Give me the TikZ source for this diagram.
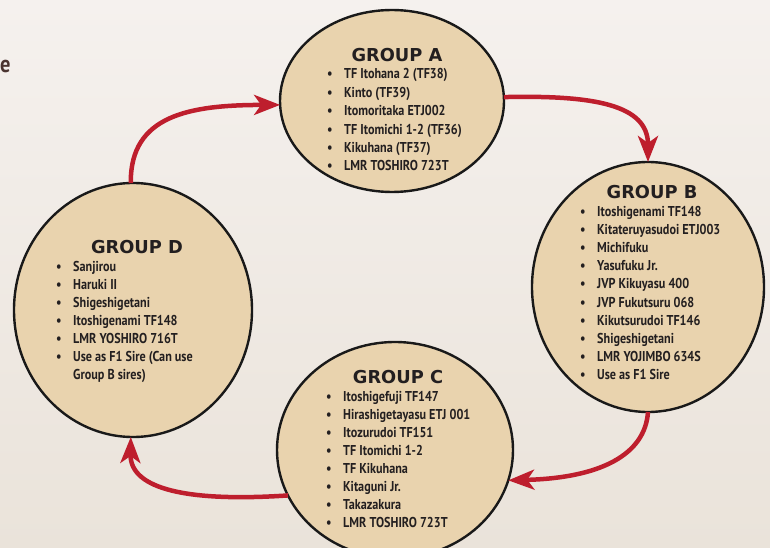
\documentclass[tikz,border=0pt]{standalone}
\usepackage{fontspec}
\setmainfont{PT Sans}[FakeStretch=0.85]
\newfontfamily\grouptitlefont{DejaVu Sans}
\usetikzlibrary{shapes.geometric,arrows.meta}
\definecolor{bgtop}{HTML}{F5F1EE}
\definecolor{bgbottom}{HTML}{EAE3DA}
\definecolor{groupfill}{HTML}{E9D3AE}
\definecolor{cyclered}{HTML}{BE1E2D}
\definecolor{inktext}{HTML}{231F20}
\definecolor{headbrown}{HTML}{4B3430}
\tikzset{
  group/.style={ellipse,draw=black!90,line width=2.4pt,fill=groupfill,inner sep=0pt,outer sep=0pt},
  grouptitle/.style={anchor=base,inner sep=0pt,text=inktext,font=\grouptitlefont\bfseries\fontsize{17.8}{20}\selectfont},
  sireitem/.style={anchor=base west,inner sep=0pt,text=inktext,font=\bfseries\fontsize{14.3}{16}\selectfont},
  cyclearrow/.style={draw=cyclered,line width=4.5pt,-{Stealth[length=26pt,width=20pt,inset=7pt]}},
}
\begin{document}
\begin{tikzpicture}[x=1pt,y=-1pt]
\useasboundingbox (0,0) rectangle (770,548);
\clip (0,0) rectangle (770,548);
\shade[top color=bgtop,bottom color=bgbottom] (0,0) rectangle (770,548);
%%
\node (cutword) at (0,73) [anchor=base west,inner sep=0pt,text=headbrown,font=\bfseries\fontsize{24}{26}\selectfont] {e};
%% the four groups
\node (grpA) at (392,101) [group,minimum width=224pt,minimum height=182pt] {};
\node (grpB) at (648,287) [group,minimum width=232pt,minimum height=250pt] {};
\node (grpC) at (395,450) [group,minimum width=236pt,minimum height=216pt] {};
\node (grpD) at (133,310) [group,minimum width=238pt,minimum height=254pt] {};
%
\node (titleA) at (397,62) [grouptitle] {GROUP A};
\node (titleB) at (652,198) [grouptitle] {GROUP B};
\node (titleC) at (398,383) [grouptitle] {GROUP C};
\node (titleD) at (137,253) [grouptitle] {GROUP D};
%
\foreach \sire [count=\i from 0] in {TF Itohana 2 (TF38),Kinto (TF39),Itomoritaka ETJ002,TF Itomichi 1-2 (TF36),Kikuhana (TF37),LMR TOSHIRO 723T}
  \node (itemA\i) at (327,79+18.4*\i) [sireitem] {\makebox[17pt][l]{\textbullet}\sire};
\foreach \sire [count=\i from 0] in {Itoshigenami TF148,Kitateruyasudoi ETJ003,Michifuku,Yasufuku Jr.,JVP Kikuyasu 400,JVP Fukutsuru 068,Kikutsurudoi TF146,Shigeshigetani,LMR YOJIMBO 634S,Use as F1 Sire}
  \node (itemB\i) at (580,216+18.2*\i) [sireitem] {\makebox[17pt][l]{\textbullet}\sire};
\foreach \sire [count=\i from 0] in {Itoshigefuji TF147,Hirashigetayasu ETJ 001,Itozurudoi TF151,TF Itomichi 1-2,TF Kikuhana,Kitaguni Jr.,Takazakura,LMR TOSHIRO 723T}
  \node (itemC\i) at (326,401+18.1*\i) [sireitem] {\makebox[17pt][l]{\textbullet}\sire};
\foreach \sire [count=\i from 0] in {Sanjirou,Haruki II,Shigeshigetani,Itoshigenami TF148,LMR YOSHIRO 716T,Use as F1 Sire (Can use}
  \node (itemD\i) at (56,271+18*\i) [sireitem] {\makebox[17pt][l]{\textbullet}\sire};
\node (itemD6) at (73,379) [sireitem] {Group B sires)};
%% the cycle
\draw [cyclearrow] (grpD.91) ..controls (130,115) and (190,105) .. (grpA.182);
\draw [cyclearrow] (grpA.2) ..controls (595,95) and (648,105) .. (grpB.north);
\draw [cyclearrow] (grpB.south) ..controls (645,455) and (600,478) .. (grpC.-15);
\draw [cyclearrow] (grpC.203) ..controls (190,502) and (130,490) .. (grpD.269);
%
\end{tikzpicture}
\end{document}
